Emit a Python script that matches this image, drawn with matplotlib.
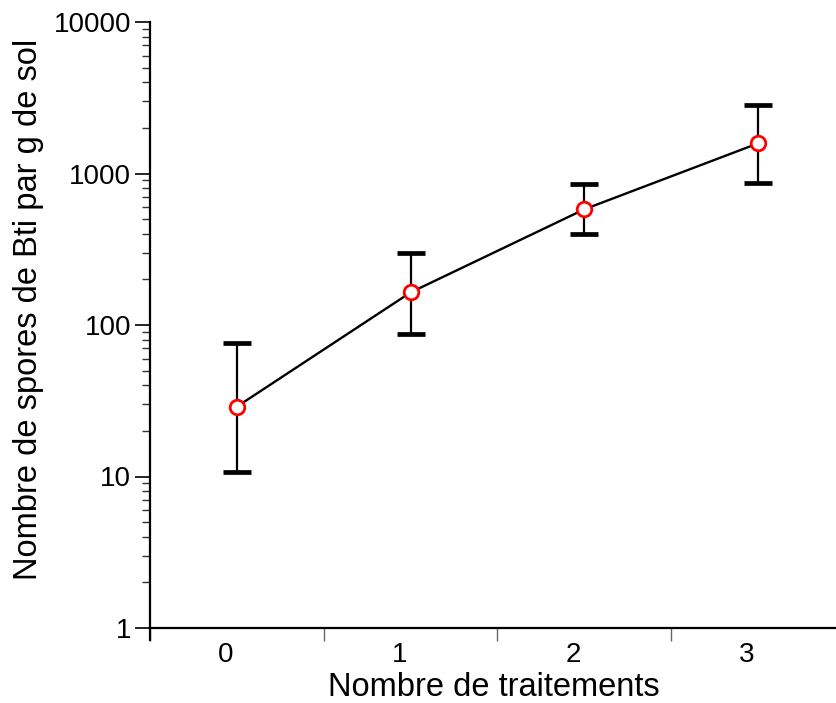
import numpy as np
import matplotlib
matplotlib.use("Agg")
import matplotlib.pyplot as plt
import matplotlib.transforms as mtransforms

plt.rcParams['font.family'] = ['Liberation Sans', 'DejaVu Sans']

# data
traitements = [0, 1, 2, 3]
spores = [28.9, 164, 580, 1580]
err_haut = [76, 300, 855, 2830]
err_bas = [10.7, 87.6, 399, 861]

x = np.array(traitements)
y = np.array(spores)
yerr = np.array([y - np.array(err_bas), np.array(err_haut) - y])

fig = plt.figure(figsize=(8.37, 7.03), dpi=100)
ax = fig.add_axes([150 / 837, 75 / 703, 1 - 150 / 837, (628 - 22) / 703])

ax.errorbar(x, y, yerr=yerr, fmt='none', ecolor='black', elinewidth=1.6,
            capsize=10, capthick=3.4, zorder=2)
ax.plot(x, y, color='black', lw=1.7, zorder=3)
ax.plot(x, y, 'o', ms=10.5, mfc='white', mec='red', mew=2.0, zorder=4)

ax.set_yscale('log')
ax.set_ylim(1, 10000)
ax.set_yticks([1, 10, 100, 1000, 10000])
ax.set_yticklabels(['1', '10', '100', '1000', '10000'])
ax.tick_params(axis='y', which='major', length=10.5, width=1.2, labelsize=20, pad=3)
ax.tick_params(axis='y', which='minor', length=6, width=1.0, color='#333333')

ax.set_xlim(-0.5, -0.5 + (837 - 150) / 173.7)
ax.set_xticks([-0.5, 0.5, 1.5, 2.5])
ax.set_xticklabels([])
ax.set_xticks(x, minor=True)
ax.set_xticklabels([str(t) for t in traitements], minor=True)
ax.tick_params(axis='x', which='major', length=9, width=1.0, color='#666666')
ax.tick_params(axis='x', which='minor', length=0, labelsize=20, pad=10)
shift = mtransforms.ScaledTranslation(-0.11, 0, fig.dpi_scale_trans)
for lab in ax.get_xticklabels(minor=True):
    lab.set_transform(lab.get_transform() + shift)

for s in ['top', 'right']:
    ax.spines[s].set_visible(False)
for s in ['left', 'bottom']:
    ax.spines[s].set_linewidth(1.6)
ax.spines['left'].set_bounds(0.834, 10000)

ax.set_xlabel('Nombre de traitements', fontsize=23.5, labelpad=3)
ax.set_ylabel('Nombre de spores de Bti par g de sol', fontsize=23.5, labelpad=7)
ax.yaxis.label.set_y(0.525)

fig.savefig('out.png', dpi=100)
